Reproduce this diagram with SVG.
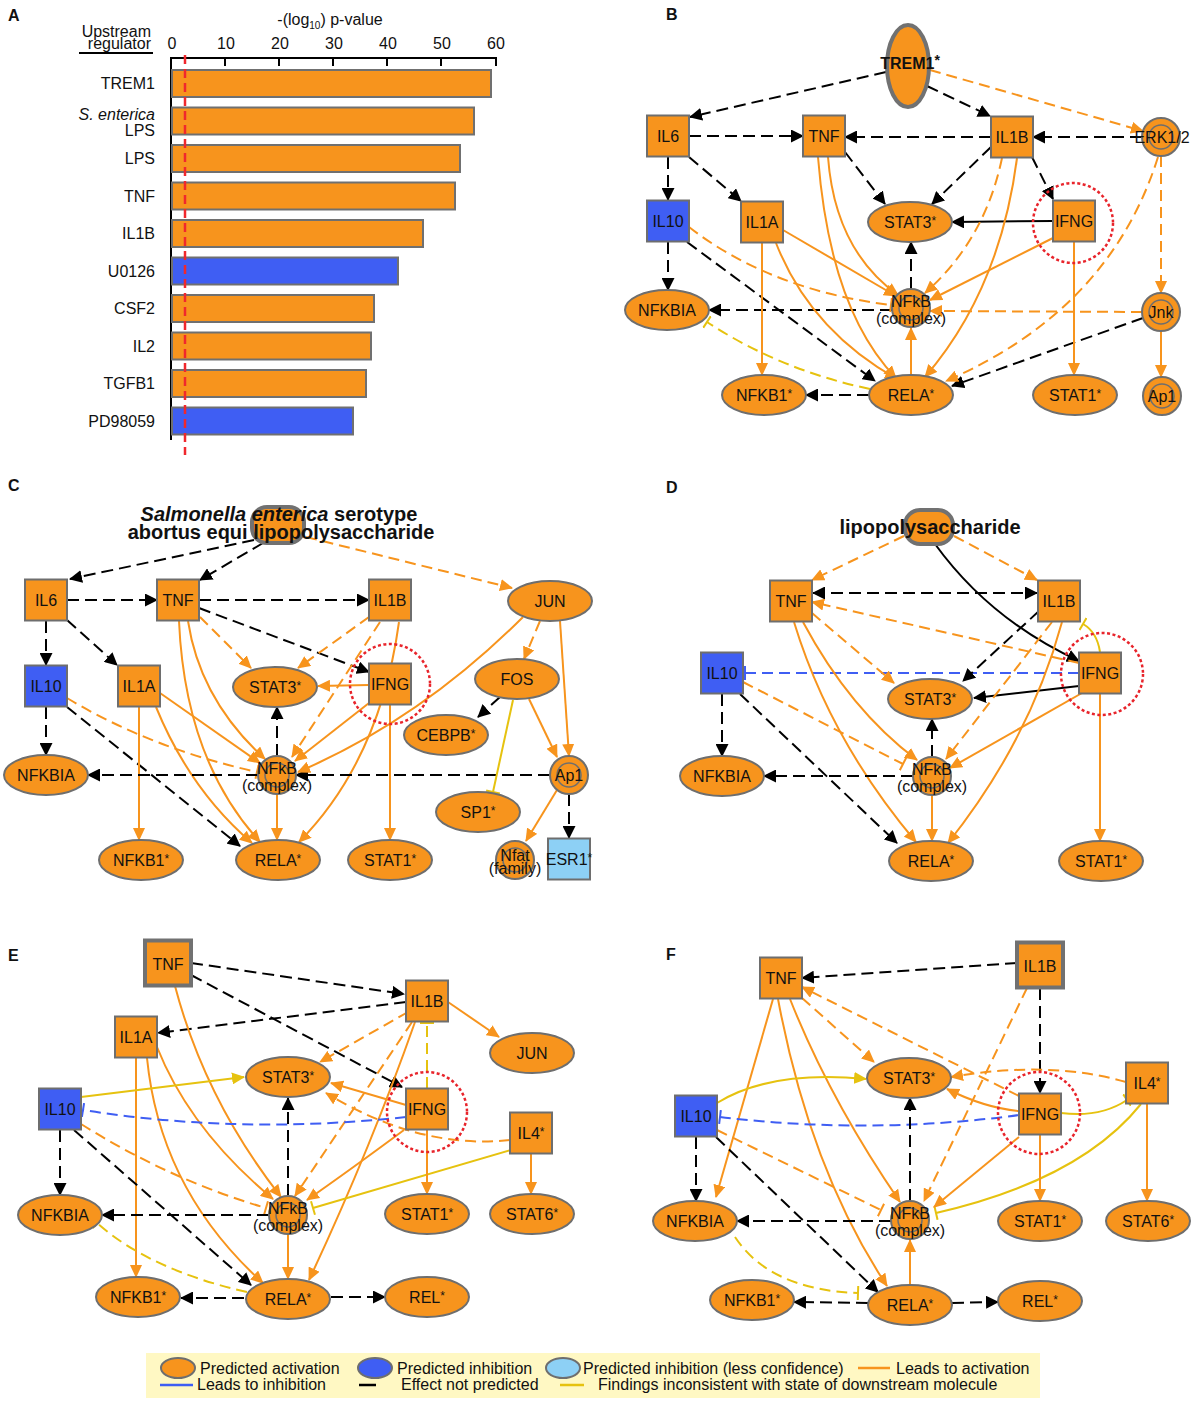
<svg xmlns="http://www.w3.org/2000/svg" width="1192" height="1405" viewBox="0 0 1192 1405">
<style>
text{font-family:"Liberation Sans",Arial,sans-serif;fill:#111}
.lbl{font-size:16px;text-anchor:middle}
.as{font-size:12px}
.pl{font-size:16px;font-weight:bold}
.nd{fill:#F7941D;stroke:#6E6E6E;stroke-width:2}
.bl{fill:#3F5EF3}
.lb{fill:#8DD0F5}
.big{stroke-width:4;stroke:#717171}
.ring{fill:none;stroke:#6E6E6E;stroke-width:1.5}
.red{fill:none;stroke:#E8242B;stroke-width:2.5;stroke-dasharray:3 2.5}
.e path{fill:none;stroke-width:2}
.k{stroke:#000;stroke-width:2.3;stroke-dasharray:12 6;marker-end:url(#ak)}
.kk{stroke:#000;stroke-width:2.3;stroke-dasharray:12 6;marker-end:url(#ak);marker-start:url(#aks)}
.ks{stroke:#000;marker-end:url(#ak)}
.o{stroke:#F7941D;marker-end:url(#ao)}
.od{stroke:#F7941D;stroke-dasharray:11 6;marker-end:url(#ao)}
.odt{stroke:#F7941D;stroke-dasharray:11 6;marker-end:url(#to)}
.y{stroke:#E6C20F;marker-end:url(#ay)}
.yt{stroke:#E6C20F;marker-end:url(#ty)}
.ydt{stroke:#E6C20F;stroke-dasharray:11 6;marker-end:url(#ty)}
.bdt{stroke:#3F5EF3;stroke-dasharray:11 6;marker-end:url(#tb)}
.bar{stroke:#707070;stroke-width:2}
</style>
<defs>
<marker id="ak" viewBox="0 0 13 13" refX="12" refY="6.5" markerWidth="13" markerHeight="13" markerUnits="userSpaceOnUse" orient="auto"><path d="M0,0L13,6.5L0,13z" fill="#000"/></marker>
<marker id="aks" viewBox="0 0 13 13" refX="1" refY="6.5" markerWidth="13" markerHeight="13" markerUnits="userSpaceOnUse" orient="auto"><path d="M13,0L0,6.5L13,13z" fill="#000"/></marker>
<marker id="ao" viewBox="0 0 13 12" refX="12" refY="6" markerWidth="13" markerHeight="12" markerUnits="userSpaceOnUse" orient="auto"><path d="M0,0L13,6L0,12z" fill="#F7941D"/></marker>
<marker id="ay" viewBox="0 0 13 12" refX="12" refY="6" markerWidth="13" markerHeight="12" markerUnits="userSpaceOnUse" orient="auto"><path d="M0,0L13,6L0,12z" fill="#E6C20F"/></marker>
<marker id="to" viewBox="0 0 4 14" refX="2" refY="7" markerWidth="4" markerHeight="14" markerUnits="userSpaceOnUse" orient="auto"><path d="M2,0V14" stroke="#F7941D" stroke-width="2"/></marker>
<marker id="ty" viewBox="0 0 4 14" refX="2" refY="7" markerWidth="4" markerHeight="14" markerUnits="userSpaceOnUse" orient="auto"><path d="M2,0V14" stroke="#E6C20F" stroke-width="2"/></marker>
<marker id="tb" viewBox="0 0 4 14" refX="2" refY="7" markerWidth="4" markerHeight="14" markerUnits="userSpaceOnUse" orient="auto"><path d="M2,0V14" stroke="#3F5EF3" stroke-width="2"/></marker>
</defs>
<rect width="1192" height="1405" fill="#fff"/>

<!-- Panel A -->
<g id="panelA">
<text class="pl" x="8" y="21">A</text>
<text x="330" y="25" font-size="16" text-anchor="middle">-(log<tspan font-size="10" dy="4">10</tspan><tspan dy="-4">) p-value</tspan></text>
<text x="151" y="37" font-size="16" text-anchor="end">Upstream</text>
<text x="151" y="49" font-size="16" text-anchor="end">regulator</text>
<line x1="79" y1="53" x2="153" y2="53" stroke="#000" stroke-width="2"/>
<g font-size="16" text-anchor="middle">
<text x="172" y="49">0</text><text x="226" y="49">10</text><text x="280" y="49">20</text><text x="334" y="49">30</text><text x="388" y="49">40</text><text x="442" y="49">50</text><text x="496" y="49">60</text>
</g>
<g stroke="#000" stroke-width="2">
<line x1="171" y1="58" x2="497" y2="58"/>
<line x1="171" y1="57" x2="171" y2="440"/>
<line x1="225" y1="58" x2="225" y2="66"/><line x1="279" y1="58" x2="279" y2="66"/><line x1="333" y1="58" x2="333" y2="66"/><line x1="387" y1="58" x2="387" y2="66"/><line x1="441" y1="58" x2="441" y2="66"/><line x1="496" y1="57" x2="496" y2="66"/>
</g>
<g class="bar">
<rect x="172" y="70" width="319" height="27" fill="#F7941D"/>
<rect x="172" y="107.5" width="302" height="27" fill="#F7941D"/>
<rect x="172" y="145" width="288" height="27" fill="#F7941D"/>
<rect x="172" y="182.5" width="283" height="27" fill="#F7941D"/>
<rect x="172" y="220" width="251" height="27" fill="#F7941D"/>
<rect x="172" y="257.5" width="226" height="27" fill="#3F5EF3"/>
<rect x="172" y="295" width="202" height="27" fill="#F7941D"/>
<rect x="172" y="332.5" width="199" height="27" fill="#F7941D"/>
<rect x="172" y="370" width="194" height="27" fill="#F7941D"/>
<rect x="172" y="407.5" width="181" height="27" fill="#3F5EF3"/>
</g>
<g font-size="16" text-anchor="end">
<text x="155" y="89">TREM1</text>
<text x="155" y="120" font-style="italic">S. enterica</text>
<text x="155" y="136">LPS</text>
<text x="155" y="164">LPS</text>
<text x="155" y="201.5">TNF</text>
<text x="155" y="239">IL1B</text>
<text x="155" y="276.5">U0126</text>
<text x="155" y="314">CSF2</text>
<text x="155" y="351.5">IL2</text>
<text x="155" y="389">TGFB1</text>
<text x="155" y="426.5">PD98059</text>
</g>
<line x1="185" y1="55" x2="185" y2="455" stroke="#F0282D" stroke-width="2.5" stroke-dasharray="9 5"/>
</g>

<!-- Panel B -->
<g id="panelB">
<text class="pl" x="666" y="20">B</text>
<g id="edges-B" class="e">
<path class="k" d="M886,72L690,117"/>
<path class="k" d="M927,86L990,116"/>
<path class="od" d="M930,70L1143,131"/>
<path class="k" d="M689,136L803,136"/>
<path class="k" d="M991,137L845,137"/>
<path class="k" d="M1142,137L1033,137"/>
<path class="k" d="M668,157L668,200"/>
<path class="k" d="M689,157L741,201"/>
<path class="k" d="M845,152L885,204"/>
<path class="k" d="M991,147L932,204"/>
<path class="k" d="M1032,157L1053,199"/>
<path class="ks" d="M1053,221L952,222"/>
<path class="k" d="M668,242L668,290"/>
<path class="k" d="M687,242L875,381"/>
<path class="k" d="M892,310L709,310"/>
<path class="k" d="M911,289L911,242"/>
<path class="k" d="M869,395L806,395"/>
<path class="k" d="M1143,318L952,386"/>
<path class="odt" d="M689,227Q770,290 891,305"/>
<path class="o" d="M762,243L762,375"/>
<path class="o" d="M783,230L896,296"/>
<path class="o" d="M776,243Q810,330 897,379"/>
<path class="o" d="M828,157Q835,250 898,295"/>
<path class="o" d="M818,157Q830,310 896,378"/>
<path class="od" d="M1002,158Q985,240 925,293"/>
<path class="o" d="M1017,158Q1000,290 925,377"/>
<path class="o" d="M1053,238L930,300"/>
<path class="o" d="M1074,242L1074,375"/>
<path class="od" d="M1161,156L1161,293"/>
<path class="od" d="M1158,157Q1110,310 946,381"/>
<path class="od" d="M1142,312L930,311"/>
<path class="o" d="M1161,331L1161,377"/>
<path class="o" d="M911,375L911,328"/>
<path class="ydt" d="M870,389Q780,370 707,322"/>
</g>
<g id="B-TREM1"><ellipse class="nd big" cx="908" cy="66" rx="21" ry="41"/><text class="lbl" x="910" y="69" font-size="20" font-weight="bold">TREM1<tspan font-size="14" dy="-4">*</tspan></text></g>
<g id="B-IL6"><rect class="nd" x="647" y="115.5" width="42" height="41"/><text class="lbl" x="668" y="142">IL6</text></g>
<g id="B-TNF"><rect class="nd" x="803" y="115.5" width="42" height="41"/><text class="lbl" x="824" y="142">TNF</text></g>
<g id="B-IL1B"><rect class="nd" x="991" y="116.5" width="42" height="41"/><text class="lbl" x="1012" y="143">IL1B</text></g>
<g id="B-ERK12"><circle class="nd" cx="1161" cy="137" r="19"/><circle class="ring" cx="1161" cy="137" r="12"/><text class="lbl" x="1162" y="143">ERK1/2</text></g>
<g id="B-IL10"><rect class="nd bl" x="647" y="200.5" width="42" height="41"/><text class="lbl" x="668" y="227">IL10</text></g>
<g id="B-IL1A"><rect class="nd" x="741" y="201.5" width="42" height="41"/><text class="lbl" x="762" y="228">IL1A</text></g>
<g id="B-STAT3"><ellipse class="nd" cx="910" cy="222" rx="42" ry="20"/><text class="lbl" x="910" y="228">STAT3<tspan class="as" dy="-3">*</tspan></text></g>
<g id="B-IFNG"><rect class="nd" x="1053" y="200.5" width="42" height="41"/><text class="lbl" x="1074" y="227">IFNG</text></g>
<g id="B-NFKBIA"><ellipse class="nd" cx="667" cy="310" rx="42" ry="20"/><text class="lbl" x="667" y="316">NFKBIA</text></g>
<g id="B-NFkB"><circle class="nd" cx="911" cy="308" r="19"/><circle class="ring" cx="911" cy="308" r="12"/><text class="lbl" x="911" y="307">NFkB</text><text class="lbl" x="911" y="324">(complex)</text></g>
<g id="B-Jnk"><circle class="nd" cx="1161" cy="312" r="19"/><circle class="ring" cx="1161" cy="312" r="12"/><text class="lbl" x="1161" y="318">Jnk</text></g>
<g id="B-NFKB1"><ellipse class="nd" cx="764" cy="395" rx="42" ry="20"/><text class="lbl" x="764" y="401">NFKB1<tspan class="as" dy="-3">*</tspan></text></g>
<g id="B-RELA"><ellipse class="nd" cx="911" cy="395" rx="42" ry="20"/><text class="lbl" x="911" y="401">RELA<tspan class="as" dy="-3">*</tspan></text></g>
<g id="B-STAT1"><ellipse class="nd" cx="1075" cy="395" rx="42" ry="20"/><text class="lbl" x="1075" y="401">STAT1<tspan class="as" dy="-3">*</tspan></text></g>
<g id="B-Ap1"><circle class="nd" cx="1162" cy="396" r="19"/><circle class="ring" cx="1162" cy="396" r="12"/><text class="lbl" x="1162" y="402">Ap1</text></g>
<circle class="red" cx="1073" cy="223" r="40"/>
</g>

<!-- Panel C -->
<g id="panelC">
<text class="pl" x="8" y="491">C</text>
<g id="edges-C" class="e">
<path class="k" d="M254,540L70,579"/>
<path class="k" d="M263,543L200,580"/>
<path class="od" d="M306,537L512,588"/>
<path class="k" d="M67,600L157,600"/>
<path class="k" d="M199,600L369,600"/>
<path class="k" d="M199,608L369,672"/>
<path class="k" d="M46,621L46,665"/>
<path class="k" d="M67,620L117,665"/>
<path class="k" d="M46,707L46,755"/>
<path class="k" d="M67,707L240,846"/>
<path class="odt" d="M67,698Q150,748 257,772"/>
<path class="od" d="M200,617L251,668"/>
<path class="od" d="M369,617L298,668"/>
<path class="od" d="M380,622L292,757"/>
<path class="o" d="M399,622Q380,760 299,842"/>
<path class="o" d="M369,685L318,686"/>
<path class="o" d="M369,703L295,761"/>
<path class="o" d="M390,705L390,840"/>
<path class="o" d="M188,621Q200,700 265,759"/>
<path class="o" d="M179,621Q185,760 260,842"/>
<path class="o" d="M139,707L139,840"/>
<path class="o" d="M160,693L260,763"/>
<path class="o" d="M156,707Q190,790 252,843"/>
<path class="k" d="M277,756L277,707"/>
<path class="k" d="M258,775L88,775"/>
<path class="o" d="M277,794L277,840"/>
<path class="k" d="M550,775L296,775"/>
<path class="o" d="M523,617Q420,720 298,772"/>
<path class="od" d="M540,621L524,659"/>
<path class="o" d="M560,621L569,756"/>
<path class="k" d="M500,697L478,717"/>
<path class="yt" d="M513,700L493,792"/>
<path class="o" d="M529,699L557,757"/>
<path class="o" d="M557,790L526,841"/>
<path class="k" d="M569,794L569,838"/>
</g>
<g id="C-SEnterica"><rect class="nd big" x="252" y="507" width="52" height="36" rx="15"/><text x="279" y="521" font-size="20" font-weight="bold" text-anchor="middle"><tspan font-style="italic">Salmonella enterica</tspan> serotype</text><text x="281" y="539" font-size="20" font-weight="bold" text-anchor="middle">abortus equi lipopolysaccharide</text></g>
<g id="C-IL6"><rect class="nd" x="25" y="579.5" width="42" height="41"/><text class="lbl" x="46" y="606">IL6</text></g>
<g id="C-TNF"><rect class="nd" x="157" y="579.5" width="42" height="41"/><text class="lbl" x="178" y="606">TNF</text></g>
<g id="C-IL1B"><rect class="nd" x="369" y="579.5" width="42" height="41"/><text class="lbl" x="390" y="606">IL1B</text></g>
<g id="C-JUN"><ellipse class="nd" cx="550" cy="601" rx="42" ry="20"/><text class="lbl" x="550" y="607">JUN</text></g>
<g id="C-IL10"><rect class="nd bl" x="25" y="665.5" width="42" height="41"/><text class="lbl" x="46" y="692">IL10</text></g>
<g id="C-IL1A"><rect class="nd" x="118" y="665.5" width="42" height="41"/><text class="lbl" x="139" y="692">IL1A</text></g>
<g id="C-STAT3"><ellipse class="nd" cx="275" cy="687" rx="42" ry="20"/><text class="lbl" x="275" y="693">STAT3<tspan class="as" dy="-3">*</tspan></text></g>
<g id="C-IFNG"><rect class="nd" x="369" y="663.5" width="42" height="41"/><text class="lbl" x="390" y="690">IFNG</text></g>
<g id="C-FOS"><ellipse class="nd" cx="517" cy="679" rx="42" ry="20"/><text class="lbl" x="517" y="685">FOS</text></g>
<g id="C-CEBPB"><ellipse class="nd" cx="446" cy="735" rx="42" ry="20"/><text class="lbl" x="446" y="741">CEBPB<tspan class="as" dy="-3">*</tspan></text></g>
<g id="C-NFKBIA"><ellipse class="nd" cx="46" cy="775" rx="42" ry="20"/><text class="lbl" x="46" y="781">NFKBIA</text></g>
<g id="C-NFkB"><circle class="nd" cx="277" cy="775" r="19"/><circle class="ring" cx="277" cy="775" r="12"/><text class="lbl" x="277" y="774">NFkB</text><text class="lbl" x="277" y="791">(complex)</text></g>
<g id="C-Ap1"><circle class="nd" cx="569" cy="775" r="19"/><circle class="ring" cx="569" cy="775" r="12"/><text class="lbl" x="569" y="781">Ap1</text></g>
<g id="C-SP1"><ellipse class="nd" cx="478" cy="812" rx="42" ry="20"/><text class="lbl" x="478" y="818">SP1<tspan class="as" dy="-3">*</tspan></text></g>
<g id="C-NFKB1"><ellipse class="nd" cx="141" cy="860" rx="42" ry="20"/><text class="lbl" x="141" y="866">NFKB1<tspan class="as" dy="-3">*</tspan></text></g>
<g id="C-RELA"><ellipse class="nd" cx="278" cy="860" rx="42" ry="20"/><text class="lbl" x="278" y="866">RELA<tspan class="as" dy="-3">*</tspan></text></g>
<g id="C-STAT1"><ellipse class="nd" cx="390" cy="860" rx="42" ry="20"/><text class="lbl" x="390" y="866">STAT1<tspan class="as" dy="-3">*</tspan></text></g>
<g id="C-Nfat"><circle class="nd" cx="515" cy="860" r="19"/><circle class="ring" cx="515" cy="860" r="12"/><text class="lbl" x="515" y="861">Nfat</text><text class="lbl" x="515" y="874">(family)</text></g>
<g id="C-ESR1"><rect class="nd lb" x="548" y="838.5" width="42" height="41"/><text class="lbl" x="569" y="865">ESR1<tspan class="as" dy="-3">*</tspan></text></g>
<circle class="red" cx="390" cy="684" r="40"/>
</g>

<!-- Panel D -->
<g id="panelD">
<text class="pl" x="666" y="493">D</text>
<g id="edges-D" class="e">
<path class="od" d="M904,536L812,580"/>
<path class="od" d="M954,536L1037,580"/>
<path class="ks" d="M935,544Q990,620 1079,661"/>
<path class="kk" d="M813,593L1037,593"/>
<path class="od" d="M1079,663L812,602"/>
<path class="yt" d="M1100,652Q1097,632 1083,624"/>
<path class="bdt" d="M1079,673L745,673"/>
<path class="ks" d="M1079,686L974,698"/>
<path class="k" d="M1039,611L963,681"/>
<path class="od" d="M812,613L894,683"/>
<path class="o" d="M803,622Q850,710 917,760"/>
<path class="o" d="M794,622Q830,740 916,842"/>
<path class="od" d="M1052,622L946,759"/>
<path class="o" d="M1062,622Q1030,740 948,843"/>
<path class="o" d="M1082,693L950,768"/>
<path class="o" d="M1100,694L1100,841"/>
<path class="k" d="M722,694L722,756"/>
<path class="k" d="M740,694L897,843"/>
<path class="odt" d="M743,682L903,764"/>
<path class="k" d="M932,757L932,719"/>
<path class="k" d="M913,776L764,776"/>
<path class="o" d="M932,795L932,841"/>
</g>
<g id="D-LPS"><rect class="nd big" x="905" y="510" width="48" height="34" rx="15"/><text x="930" y="534" font-size="20" font-weight="bold" text-anchor="middle">lipopolysaccharide</text></g>
<g id="D-TNF"><rect class="nd" x="770" y="580.5" width="42" height="41"/><text class="lbl" x="791" y="607">TNF</text></g>
<g id="D-IL1B"><rect class="nd" x="1038" y="580.5" width="42" height="41"/><text class="lbl" x="1059" y="607">IL1B</text></g>
<g id="D-IL10"><rect class="nd bl" x="701" y="652.5" width="42" height="41"/><text class="lbl" x="722" y="679">IL10</text></g>
<g id="D-IFNG"><rect class="nd" x="1079" y="652.5" width="42" height="41"/><text class="lbl" x="1100" y="679">IFNG</text></g>
<g id="D-STAT3"><ellipse class="nd" cx="930" cy="699" rx="42" ry="20"/><text class="lbl" x="930" y="705">STAT3<tspan class="as" dy="-3">*</tspan></text></g>
<g id="D-NFKBIA"><ellipse class="nd" cx="722" cy="776" rx="42" ry="20"/><text class="lbl" x="722" y="782">NFKBIA</text></g>
<g id="D-NFkB"><circle class="nd" cx="932" cy="776" r="19"/><circle class="ring" cx="932" cy="776" r="12"/><text class="lbl" x="932" y="775">NFkB</text><text class="lbl" x="932" y="792">(complex)</text></g>
<g id="D-RELA"><ellipse class="nd" cx="931" cy="861" rx="42" ry="20"/><text class="lbl" x="931" y="867">RELA<tspan class="as" dy="-3">*</tspan></text></g>
<g id="D-STAT1"><ellipse class="nd" cx="1101" cy="861" rx="42" ry="20"/><text class="lbl" x="1101" y="867">STAT1<tspan class="as" dy="-3">*</tspan></text></g>
<circle class="red" cx="1102" cy="674" r="41"/>
</g>

<!-- Panel E -->
<g id="panelE">
<text class="pl" x="8" y="961">E</text>
<g id="edges-E" class="e">
<path class="k" d="M191,963L404,994"/>
<path class="k" d="M191,975L402,1087"/>
<path class="k" d="M406,1002L158,1033"/>
<path class="o" d="M448,1002L499,1037"/>
<path class="od" d="M408,1012L320,1062"/>
<path class="od" d="M412,1022L295,1196"/>
<path class="o" d="M415,1022Q370,1150 309,1280"/>
<path class="ydt" d="M427,1088L427,1023"/>
<path class="o" d="M175,986Q205,1100 281,1197"/>
<path class="o" d="M136,1058L136,1277"/>
<path class="o" d="M157,1047Q190,1130 273,1199"/>
<path class="o" d="M147,1058Q160,1190 263,1283"/>
<path class="y" d="M81,1097L244,1077"/>
<path class="bdt" d="M406,1117Q240,1135 83,1110"/>
<path class="o" d="M406,1105L331,1083"/>
<path class="od" d="M510,1140Q420,1150 326,1093"/>
<path class="yt" d="M511,1150L313,1208"/>
<path class="o" d="M531,1154L531,1194"/>
<path class="o" d="M427,1130L427,1194"/>
<path class="o" d="M404,1130Q350,1170 307,1200"/>
<path class="k" d="M60,1130L60,1195"/>
<path class="k" d="M74,1130L251,1285"/>
<path class="odt" d="M81,1124Q170,1180 266,1208"/>
<path class="k" d="M288,1196L288,1098"/>
<path class="k" d="M269,1215L102,1215"/>
<path class="o" d="M288,1234L288,1279"/>
<path class="ydt" d="M247,1292Q150,1270 97,1223"/>
<path class="k" d="M244,1298L181,1298"/>
<path class="k" d="M331,1297L385,1297"/>
</g>
<g id="E-TNF"><rect class="nd big" x="145" y="940.5" width="46" height="45"/><text class="lbl" x="168" y="970" font-size="21">TNF</text></g>
<g id="E-IL1B"><rect class="nd" x="406" y="980.5" width="42" height="41"/><text class="lbl" x="427" y="1007">IL1B</text></g>
<g id="E-IL1A"><rect class="nd" x="115" y="1016.5" width="42" height="41"/><text class="lbl" x="136" y="1043">IL1A</text></g>
<g id="E-JUN"><ellipse class="nd" cx="532" cy="1053" rx="42" ry="20"/><text class="lbl" x="532" y="1059">JUN</text></g>
<g id="E-STAT3"><ellipse class="nd" cx="288" cy="1077" rx="42" ry="20"/><text class="lbl" x="288" y="1083">STAT3<tspan class="as" dy="-3">*</tspan></text></g>
<g id="E-IL10"><rect class="nd bl" x="39" y="1088.5" width="42" height="41"/><text class="lbl" x="60" y="1115">IL10</text></g>
<g id="E-IFNG"><rect class="nd" x="406" y="1088.5" width="42" height="41"/><text class="lbl" x="427" y="1115">IFNG</text></g>
<g id="E-IL4"><rect class="nd" x="510" y="1112.5" width="42" height="41"/><text class="lbl" x="531" y="1139">IL4<tspan class="as" dy="-3">*</tspan></text></g>
<g id="E-NFKBIA"><ellipse class="nd" cx="60" cy="1215" rx="42" ry="20"/><text class="lbl" x="60" y="1221">NFKBIA</text></g>
<g id="E-NFkB"><circle class="nd" cx="288" cy="1215" r="19"/><circle class="ring" cx="288" cy="1215" r="12"/><text class="lbl" x="288" y="1214">NFkB</text><text class="lbl" x="288" y="1231">(complex)</text></g>
<g id="E-STAT1"><ellipse class="nd" cx="427" cy="1214" rx="42" ry="20"/><text class="lbl" x="427" y="1220">STAT1<tspan class="as" dy="-3">*</tspan></text></g>
<g id="E-STAT6"><ellipse class="nd" cx="532" cy="1214" rx="42" ry="20"/><text class="lbl" x="532" y="1220">STAT6<tspan class="as" dy="-3">*</tspan></text></g>
<g id="E-NFKB1"><ellipse class="nd" cx="138" cy="1297" rx="42" ry="20"/><text class="lbl" x="138" y="1303">NFKB1<tspan class="as" dy="-3">*</tspan></text></g>
<g id="E-RELA"><ellipse class="nd" cx="288" cy="1299" rx="42" ry="20"/><text class="lbl" x="288" y="1305">RELA<tspan class="as" dy="-3">*</tspan></text></g>
<g id="E-REL"><ellipse class="nd" cx="427" cy="1297" rx="42" ry="20"/><text class="lbl" x="427" y="1303">REL<tspan class="as" dy="-3">*</tspan></text></g>
<circle class="red" cx="427" cy="1112" r="40"/>
</g>

<!-- Panel F -->
<g id="panelF">
<text class="pl" x="666" y="960">F</text>
<g id="edges-F" class="e">
<path class="k" d="M1017,963L802,978"/>
<path class="k" d="M1040,988L1040,1093"/>
<path class="od" d="M1027,988L924,1201"/>
<path class="od" d="M1019,1096L802,987"/>
<path class="od" d="M802,998L874,1062"/>
<path class="o" d="M773,999L716,1197"/>
<path class="o" d="M778,999Q810,1170 887,1286"/>
<path class="o" d="M790,999Q830,1100 900,1202"/>
<path class="y" d="M717,1103Q770,1070 866,1079"/>
<path class="bdt" d="M1019,1115Q870,1135 720,1117"/>
<path class="o" d="M1019,1111Q985,1108 947,1089"/>
<path class="od" d="M1126,1082Q1050,1060 951,1077"/>
<path class="yt" d="M1061,1113Q1100,1118 1127,1100"/>
<path class="yt" d="M1141,1104Q1080,1180 936,1213"/>
<path class="o" d="M1147,1104L1147,1201"/>
<path class="o" d="M1040,1135L1040,1201"/>
<path class="o" d="M1019,1137L934,1207"/>
<path class="k" d="M696,1137L696,1201"/>
<path class="k" d="M716,1137L878,1292"/>
<path class="odt" d="M717,1130L881,1210"/>
<path class="k" d="M910,1201L910,1098"/>
<path class="k" d="M891,1221L737,1221"/>
<path class="o" d="M910,1285L910,1240"/>
<path class="ydt" d="M735,1237Q770,1290 858,1293"/>
<path class="k" d="M868,1303L794,1302"/>
<path class="k" d="M952,1303L998,1302"/>
</g>
<g id="F-IL1B"><rect class="nd big" x="1017" y="942.5" width="46" height="45"/><text class="lbl" x="1040" y="972" font-size="21">IL1B</text></g>
<g id="F-TNF"><rect class="nd" x="760" y="957.5" width="42" height="41"/><text class="lbl" x="781" y="984">TNF</text></g>
<g id="F-STAT3"><ellipse class="nd" cx="909" cy="1078" rx="42" ry="20"/><text class="lbl" x="909" y="1084">STAT3<tspan class="as" dy="-3">*</tspan></text></g>
<g id="F-IL4"><rect class="nd" x="1126" y="1062.5" width="42" height="41"/><text class="lbl" x="1147" y="1089">IL4<tspan class="as" dy="-3">*</tspan></text></g>
<g id="F-IL10"><rect class="nd bl" x="675" y="1095.5" width="42" height="41"/><text class="lbl" x="696" y="1122">IL10</text></g>
<g id="F-IFNG"><rect class="nd" x="1019" y="1093.5" width="42" height="41"/><text class="lbl" x="1040" y="1120">IFNG</text></g>
<g id="F-NFKBIA"><ellipse class="nd" cx="695" cy="1221" rx="42" ry="20"/><text class="lbl" x="695" y="1227">NFKBIA</text></g>
<g id="F-NFkB"><circle class="nd" cx="910" cy="1220" r="19"/><circle class="ring" cx="910" cy="1220" r="12"/><text class="lbl" x="910" y="1219">NFkB</text><text class="lbl" x="910" y="1236">(complex)</text></g>
<g id="F-STAT1"><ellipse class="nd" cx="1040" cy="1221" rx="42" ry="20"/><text class="lbl" x="1040" y="1227">STAT1<tspan class="as" dy="-3">*</tspan></text></g>
<g id="F-STAT6"><ellipse class="nd" cx="1148" cy="1221" rx="42" ry="20"/><text class="lbl" x="1148" y="1227">STAT6<tspan class="as" dy="-3">*</tspan></text></g>
<g id="F-NFKB1"><ellipse class="nd" cx="752" cy="1300" rx="42" ry="20"/><text class="lbl" x="752" y="1306">NFKB1<tspan class="as" dy="-3">*</tspan></text></g>
<g id="F-RELA"><ellipse class="nd" cx="910" cy="1305" rx="42" ry="20"/><text class="lbl" x="910" y="1311">RELA<tspan class="as" dy="-3">*</tspan></text></g>
<g id="F-REL"><ellipse class="nd" cx="1040" cy="1301" rx="42" ry="20"/><text class="lbl" x="1040" y="1307">REL<tspan class="as" dy="-3">*</tspan></text></g>
<circle class="red" cx="1039" cy="1113" r="41"/>
</g>

<!-- Legend -->
<g id="legend">
<rect x="146" y="1353" width="894" height="45" fill="#FFF8C3"/>
<ellipse class="nd" cx="178" cy="1368" rx="17" ry="10"/>
<ellipse class="nd bl" cx="375" cy="1368" rx="17" ry="10"/>
<ellipse class="nd lb" cx="563" cy="1368" rx="17" ry="10"/>
<line x1="858" y1="1368" x2="890" y2="1368" stroke="#F7941D" stroke-width="2.5"/>
<line x1="160" y1="1385" x2="193" y2="1385" stroke="#3F5EF3" stroke-width="2.5"/>
<line x1="359" y1="1385" x2="376" y2="1385" stroke="#000" stroke-width="2.5"/>
<line x1="560" y1="1385" x2="584" y2="1385" stroke="#E6C20F" stroke-width="2.5"/>
<g font-size="16">
<text x="200" y="1374">Predicted activation</text>
<text x="397" y="1374">Predicted inhibition</text>
<text x="583" y="1374">Predicted inhibition (less confidence)</text>
<text x="896" y="1374">Leads to activation</text>
<text x="197" y="1390">Leads to inhibition</text>
<text x="401" y="1390">Effect not predicted</text>
<text x="598" y="1390">Findings inconsistent with state of downstream molecule</text>
</g>
</g>
</svg>
